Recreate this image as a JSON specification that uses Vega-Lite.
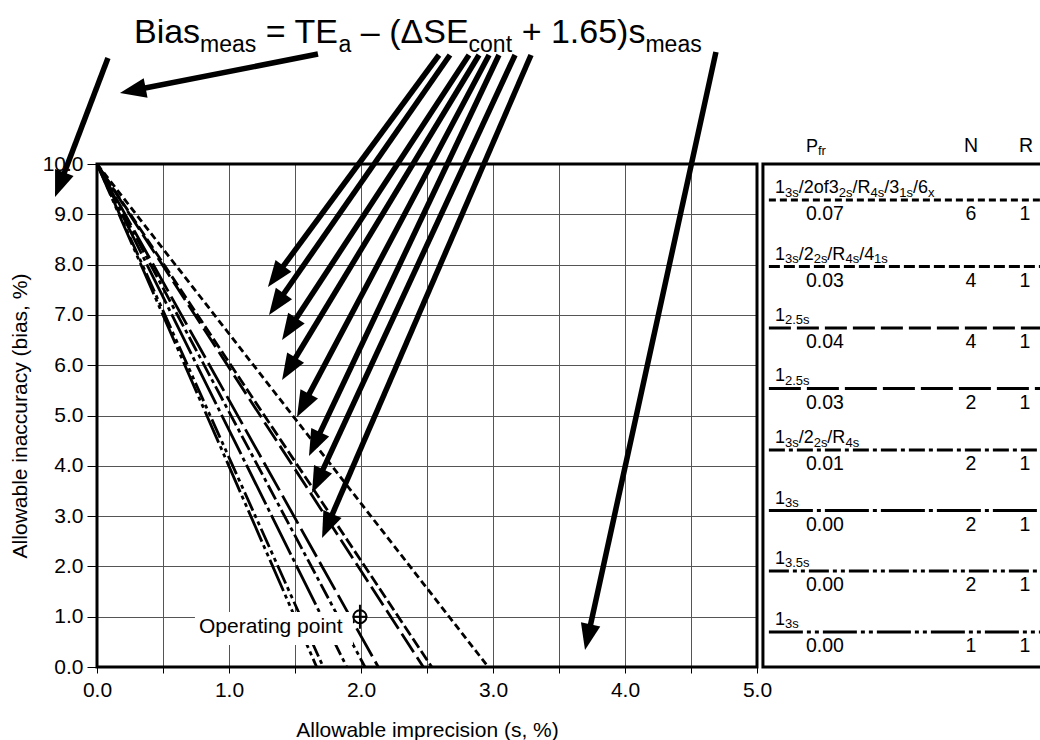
{
  "$schema": "https://vega.github.io/schema/vega-lite/v6.json",
  "width": 660,
  "height": 503,
  "autosize": {"type": "none"},
  "padding": {"left": 97, "top": 164, "right": 283, "bottom": 73},
  "background": "white",
  "config": {
    "font": "Liberation Sans",
    "view": {"stroke": null},
    "axis": {"labelColor": "black", "titleColor": "black", "tickColor": "black", "gridColor": "#555", "gridWidth": 1, "domain": false, "titleFontWeight": "normal", "labelFont": "Liberation Sans", "titleFont": "Liberation Sans"}
  },
  "datasets": {
    "crit": [
      {"rule": "r1", "x": 0, "y": 10}, {"rule": "r1", "x": 2.964, "y": 0},
      {"rule": "r2", "x": 0, "y": 10}, {"rule": "r2", "x": 2.536, "y": 0},
      {"rule": "r3", "x": 0, "y": 10}, {"rule": "r3", "x": 2.472, "y": 0},
      {"rule": "r4", "x": 0, "y": 10}, {"rule": "r4", "x": 2.131, "y": 0},
      {"rule": "r5", "x": 0, "y": 10}, {"rule": "r5", "x": 2.030, "y": 0},
      {"rule": "r6", "x": 0, "y": 10}, {"rule": "r6", "x": 1.892, "y": 0},
      {"rule": "r7", "x": 0, "y": 10}, {"rule": "r7", "x": 1.714, "y": 0},
      {"rule": "r8", "x": 0, "y": 10}, {"rule": "r8", "x": 1.664, "y": 0}
    ],
    "legLines": [
      {"rule": "r1", "x": 5.09, "y": 9.284}, {"rule": "r1", "x": 7.6, "y": 9.284},
      {"rule": "r2", "x": 5.09, "y": 7.962}, {"rule": "r2", "x": 7.6, "y": 7.962},
      {"rule": "r3", "x": 5.09, "y": 6.740}, {"rule": "r3", "x": 7.6, "y": 6.740},
      {"rule": "r4", "x": 5.09, "y": 5.537}, {"rule": "r4", "x": 7.6, "y": 5.537},
      {"rule": "r5", "x": 5.09, "y": 4.314}, {"rule": "r5", "x": 7.6, "y": 4.314},
      {"rule": "r6", "x": 5.09, "y": 3.111}, {"rule": "r6", "x": 7.6, "y": 3.111},
      {"rule": "r7", "x": 5.09, "y": 1.909}, {"rule": "r7", "x": 7.6, "y": 1.909},
      {"rule": "r8", "x": 5.09, "y": 0.696}, {"rule": "r8", "x": 7.6, "y": 0.696}
    ],
    "legMain": [
      {"t": "P", "x": 5.371, "y": 10.239},
      {"t": "1", "x": 5.136, "y": 9.423}, {"t": "/2of3", "x": 5.316, "y": 9.423}, {"t": "/R", "x": 5.723, "y": 9.423}, {"t": "/3", "x": 5.964, "y": 9.423}, {"t": "/6", "x": 6.181, "y": 9.423},
      {"t": "1", "x": 5.136, "y": 8.101}, {"t": "/2", "x": 5.316, "y": 8.101}, {"t": "/R", "x": 5.533, "y": 8.101}, {"t": "/4", "x": 5.774, "y": 8.101},
      {"t": "1", "x": 5.136, "y": 6.879},
      {"t": "1", "x": 5.136, "y": 5.676},
      {"t": "1", "x": 5.136, "y": 4.453}, {"t": "/2", "x": 5.316, "y": 4.453}, {"t": "/R", "x": 5.533, "y": 4.453},
      {"t": "1", "x": 5.136, "y": 3.250},
      {"t": "1", "x": 5.136, "y": 2.048},
      {"t": "1", "x": 5.136, "y": 0.835}
    ],
    "legVals": [
      {"t": "0.07", "x": 5.371, "y": 8.886},
      {"t": "0.03", "x": 5.371, "y": 7.564},
      {"t": "0.04", "x": 5.371, "y": 6.342},
      {"t": "0.03", "x": 5.371, "y": 5.139},
      {"t": "0.01", "x": 5.371, "y": 3.916},
      {"t": "0.00", "x": 5.371, "y": 2.713},
      {"t": "0.00", "x": 5.371, "y": 1.511},
      {"t": "0.00", "x": 5.371, "y": 0.298}
    ],
    "legCenter": [
      {"t": "N", "x": 6.621, "y": 10.239}, {"t": "R", "x": 7.038, "y": 10.239},
      {"t": "6", "x": 6.621, "y": 8.886}, {"t": "1", "x": 7.030, "y": 8.886},
      {"t": "4", "x": 6.621, "y": 7.564}, {"t": "1", "x": 7.030, "y": 7.564},
      {"t": "4", "x": 6.621, "y": 6.342}, {"t": "1", "x": 7.030, "y": 6.342},
      {"t": "2", "x": 6.621, "y": 5.139}, {"t": "1", "x": 7.030, "y": 5.139},
      {"t": "2", "x": 6.621, "y": 3.916}, {"t": "1", "x": 7.030, "y": 3.916},
      {"t": "2", "x": 6.621, "y": 2.713}, {"t": "1", "x": 7.030, "y": 2.713},
      {"t": "2", "x": 6.621, "y": 1.511}, {"t": "1", "x": 7.030, "y": 1.511},
      {"t": "1", "x": 6.621, "y": 0.298}, {"t": "1", "x": 7.030, "y": 0.298}
    ],
    "legSub": [
      {"t": "fr", "x": 5.462, "y": 10.239},
      {"t": "3s", "x": 5.212, "y": 9.423}, {"t": "2s", "x": 5.620, "y": 9.423}, {"t": "4s", "x": 5.860, "y": 9.423}, {"t": "1s", "x": 6.077, "y": 9.423}, {"t": "x", "x": 6.295, "y": 9.423},
      {"t": "3s", "x": 5.212, "y": 8.101}, {"t": "2s", "x": 5.430, "y": 8.101}, {"t": "4s", "x": 5.670, "y": 8.101}, {"t": "1s", "x": 5.887, "y": 8.101},
      {"t": "2.5s", "x": 5.212, "y": 6.879},
      {"t": "2.5s", "x": 5.212, "y": 5.676},
      {"t": "3s", "x": 5.212, "y": 4.453}, {"t": "2s", "x": 5.430, "y": 4.453}, {"t": "4s", "x": 5.670, "y": 4.453},
      {"t": "3s", "x": 5.212, "y": 3.250},
      {"t": "3.5s", "x": 5.212, "y": 2.048},
      {"t": "3s", "x": 5.212, "y": 0.835}
    ],
    "titleMain": [
      {"t": "Bias", "x": 0.280, "y": 12.406},
      {"t": "= TE", "x": 1.279, "y": 12.406},
      {"t": "– (ΔSE", "x": 1.999, "y": 12.406},
      {"t": "+ 1.65)s", "x": 3.217, "y": 12.406}
    ],
    "titleSub": [
      {"t": "meas", "x": 0.781, "y": 12.406},
      {"t": "a", "x": 1.830, "y": 12.406},
      {"t": "cont", "x": 2.815, "y": 12.406},
      {"t": "meas", "x": 4.155, "y": 12.406}
    ],
    "arrows": [
      {"x": 0.083, "y": 12.107, "x2": -0.318, "y2": 9.344},
      {"x": 1.674, "y": 12.187, "x2": 0.174, "y2": 11.412},
      {"x": 2.591, "y": 12.167, "x2": 1.295, "y2": 7.555},
      {"x": 2.674, "y": 12.167, "x2": 1.303, "y2": 6.998},
      {"x": 2.818, "y": 12.167, "x2": 1.402, "y2": 6.501},
      {"x": 2.894, "y": 12.167, "x2": 1.402, "y2": 5.706},
      {"x": 2.970, "y": 12.167, "x2": 1.515, "y2": 4.970},
      {"x": 3.045, "y": 12.167, "x2": 1.606, "y2": 4.195},
      {"x": 3.167, "y": 12.167, "x2": 1.629, "y2": 3.459},
      {"x": 3.288, "y": 12.167, "x2": 1.705, "y2": 2.565},
      {"x": 4.689, "y": 12.227, "x2": 3.697, "y2": 0.338}
    ]
  },
  "layer": [
    {
      "data": {"name": "crit"},
      "mark": {"type": "line", "strokeWidth": 2.8, "color": "black", "strokeCap": "butt"},
      "encoding": {
        "x": {"field": "x", "type": "quantitative",
          "scale": {"domain": [0, 5], "nice": false, "zero": false},
          "axis": {"title": "Allowable imprecision (s, %)", "values": [0, 0.5, 1, 1.5, 2, 2.5, 3, 3.5, 4, 4.5, 5],
            "labelExpr": "datum.value % 1 == 0 ? format(datum.value, '.1f') : ''",
            "grid": true, "tickSize": 6, "labelFontSize": 21, "labelPadding": 6, "labelFlush": false,
            "titleFontSize": 21, "titlePadding": 19}},
        "y": {"field": "y", "type": "quantitative",
          "scale": {"domain": [0, 10], "nice": false, "zero": false},
          "axis": {"title": "Allowable inaccuracy (bias, %)", "values": [0, 1, 2, 3, 4, 5, 6, 7, 8, 9, 10],
            "format": ".1f", "grid": true, "tickSize": 10, "labelFontSize": 21, "labelPadding": 4, "labelFlush": false,
            "titleFontSize": 21, "titlePadding": 12}},
        "strokeDash": {"field": "rule", "type": "nominal", "legend": null,
          "scale": {"domain": ["r1", "r2", "r3", "r4", "r5", "r6", "r7", "r8"],
            "range": [[7, 4], [11, 4], [22, 6], [32, 6], [16, 4, 4, 4], [44, 4, 4, 4], [20, 4, 4, 4, 4, 4], [34, 4, 4, 4, 4, 4]]}}
      }
    },
    {
      "data": {"values": [{"x": 0.742, "x2": 1.939, "y": 0.437, "y2": 1.093}]},
      "mark": {"type": "rect", "color": "white"},
      "encoding": {"x": {"field": "x", "type": "quantitative"}, "x2": {"field": "x2"}, "y": {"field": "y", "type": "quantitative"}, "y2": {"field": "y2"}}
    },
    {
      "data": {"values": [{"t": "Operating point", "x": 0.773, "y": 0.676}]},
      "mark": {"type": "text", "align": "left", "baseline": "alphabetic", "fontSize": 21, "color": "black"},
      "encoding": {"x": {"field": "x", "type": "quantitative"}, "y": {"field": "y", "type": "quantitative"}, "text": {"field": "t"}}
    },
    {
      "data": {"values": [{"x": 1.992, "y": 1.0}]},
      "mark": {"type": "point", "shape": "circle", "filled": false, "color": "black", "size": 170, "strokeWidth": 2, "opacity": 1},
      "encoding": {"x": {"field": "x", "type": "quantitative"}, "y": {"field": "y", "type": "quantitative"}}
    },
    {
      "data": {"values": [{"x": 1.992, "y": 1.0}]},
      "mark": {"type": "point", "shape": "M0,-1.8L0,1.8M-1.1,0L1.1,0", "filled": false, "color": "black", "size": 178, "strokeWidth": 2, "opacity": 1},
      "encoding": {"x": {"field": "x", "type": "quantitative"}, "y": {"field": "y", "type": "quantitative"}}
    },
    {
      "data": {"values": [{"x": 0, "x2": 5, "y": 0, "y2": 10}, {"x": 5.045, "x2": 7.9, "y": 0, "y2": 10}]},
      "mark": {"type": "rect", "filled": false, "color": "black", "strokeWidth": 3},
      "encoding": {"x": {"field": "x", "type": "quantitative"}, "x2": {"field": "x2"}, "y": {"field": "y", "type": "quantitative"}, "y2": {"field": "y2"}}
    },
    {
      "data": {"name": "legLines"},
      "mark": {"type": "line", "strokeWidth": 2.8, "color": "black", "strokeCap": "butt"},
      "encoding": {
        "x": {"field": "x", "type": "quantitative"},
        "y": {"field": "y", "type": "quantitative"},
        "strokeDash": {"field": "rule", "type": "nominal", "legend": null}
      }
    },
    {
      "data": {"name": "legMain"},
      "mark": {"type": "text", "align": "left", "baseline": "alphabetic", "fontSize": 18, "color": "black"},
      "encoding": {"x": {"field": "x", "type": "quantitative"}, "y": {"field": "y", "type": "quantitative"}, "text": {"field": "t"}}
    },
    {
      "data": {"name": "legVals"},
      "mark": {"type": "text", "align": "left", "baseline": "alphabetic", "fontSize": 19.5, "color": "black"},
      "encoding": {"x": {"field": "x", "type": "quantitative"}, "y": {"field": "y", "type": "quantitative"}, "text": {"field": "t"}}
    },
    {
      "data": {"name": "legCenter"},
      "mark": {"type": "text", "align": "center", "baseline": "alphabetic", "fontSize": 19.5, "color": "black"},
      "encoding": {"x": {"field": "x", "type": "quantitative"}, "y": {"field": "y", "type": "quantitative"}, "text": {"field": "t"}}
    },
    {
      "data": {"name": "legSub"},
      "mark": {"type": "text", "align": "left", "baseline": "alphabetic", "fontSize": 13, "dy": 3.5, "color": "black"},
      "encoding": {"x": {"field": "x", "type": "quantitative"}, "y": {"field": "y", "type": "quantitative"}, "text": {"field": "t"}}
    },
    {
      "data": {"name": "titleMain"},
      "mark": {"type": "text", "align": "left", "baseline": "alphabetic", "fontSize": 34, "color": "black"},
      "encoding": {"x": {"field": "x", "type": "quantitative"}, "y": {"field": "y", "type": "quantitative"}, "text": {"field": "t"}}
    },
    {
      "data": {"name": "titleSub"},
      "mark": {"type": "text", "align": "left", "baseline": "alphabetic", "fontSize": 23, "dy": 9, "color": "black"},
      "encoding": {"x": {"field": "x", "type": "quantitative"}, "y": {"field": "y", "type": "quantitative"}, "text": {"field": "t"}}
    },
    {
      "data": {"name": "arrows"},
      "transform": [
        {"calculate": "(datum.x2 - datum.x) * 132", "as": "dxp"},
        {"calculate": "(datum.y2 - datum.y) * 50.3", "as": "dyp"},
        {"calculate": "sqrt(datum.dxp * datum.dxp + datum.dyp * datum.dyp)", "as": "len"},
        {"calculate": "datum.x2 - (datum.x2 - datum.x) * 14 / datum.len", "as": "xe"},
        {"calculate": "datum.y2 - (datum.y2 - datum.y) * 14 / datum.len", "as": "ye"}
      ],
      "mark": {"type": "rule", "strokeWidth": 5.5, "color": "black", "strokeCap": "butt"},
      "encoding": {"x": {"field": "x", "type": "quantitative"}, "y": {"field": "y", "type": "quantitative"}, "x2": {"field": "xe"}, "y2": {"field": "ye"}}
    },
    {
      "data": {"name": "arrows"},
      "transform": [
        {"calculate": "(datum.x2 - datum.x) * 132", "as": "dxp"},
        {"calculate": "(datum.y2 - datum.y) * 50.3", "as": "dyp"},
        {"calculate": "atan2(datum.dxp, datum.dyp) * 180 / PI", "as": "ang"}
      ],
      "mark": {"type": "point", "shape": "M0,0L0.7,1.85L-0.7,1.85Z", "filled": true, "color": "black", "size": 800, "opacity": 1, "strokeWidth": 0},
      "encoding": {"x": {"field": "x2", "type": "quantitative"}, "y": {"field": "y2", "type": "quantitative"}, "angle": {"field": "ang", "type": "quantitative", "scale": null}}
    }
  ]
}
